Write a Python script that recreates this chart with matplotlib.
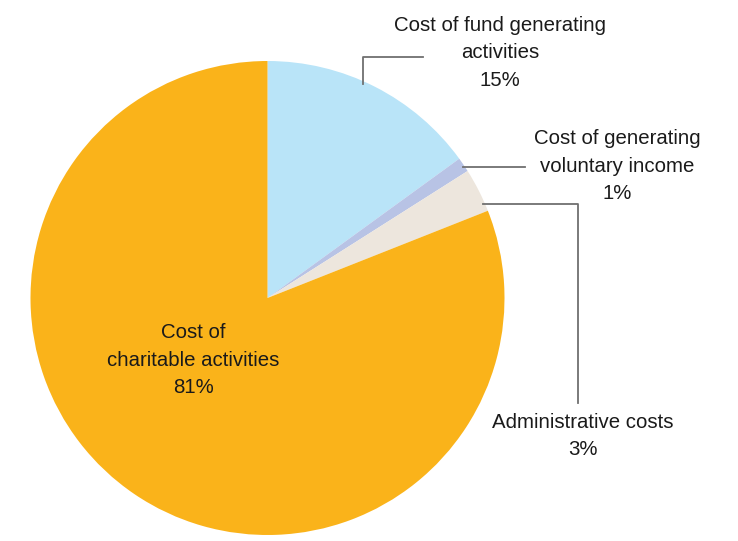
import numpy as np
import matplotlib
matplotlib.use("Agg")
import matplotlib.pyplot as plt

labels = ["Cost of fund generating\nactivities", "Cost of generating\nvoluntary income",
          "Administrative costs", "Cost of\ncharitable activities"]
values = [15, 1, 3, 81]
colors = ["#b9e4f8", "#b8c3e5", "#ede6dd", "#fab31a"]

W, H = 738, 541
fig = plt.figure(figsize=(W / 100, H / 100), dpi=100)
ax = fig.add_axes([0, 0, 1, 1])

def Y(y):  # pixel row (from top) -> data y
    return H - np.asarray(y, dtype=float)

cx, cy, R = 267.5, 298, 237
ax.pie(values, colors=colors, startangle=90, counterclock=False, center=(cx, Y(cy)),
       radius=R, wedgeprops=dict(linewidth=0), frame=True)
ax.set_xlim(0, W)
ax.set_ylim(0, H)
ax.set_aspect("equal")
ax.axis("off")

font = dict(family="Liberation Sans", fontsize=14.7, color="#1a1a1a", ha="center",
            va="center", linespacing=1.55)
lc = "#707070"
lw = 1.3

def circle_x(y):
    return cx + np.sqrt(R**2 - (y - cy)**2)

def circle_y(x):
    return cy - np.sqrt(R**2 - (x - cx)**2)

# Fund generating
ax.plot([363, 363, 423], Y([circle_y(363) + 3, 57, 57]), color=lc, lw=lw)
ax.text(500, Y(53), f"{labels[0]}\n{values[0]}%", **font)
# Voluntary income
ax.plot([circle_x(167) - 2, 525], Y([167, 167]), color=lc, lw=lw)
ax.text(617, Y(166), f"{labels[1]}\n{values[1]}%", **font)
# Administrative
ax.plot([circle_x(204) - 2, 578, 578], Y([204, 204, 403]), color=lc, lw=lw)
ax.text(583, Y(436), f"{labels[2]}\n{values[2]}%", **font)
# Charitable
ax.text(193, Y(360), f"{labels[3]}\n{values[3]}%", **font)

fig.savefig("out.png", dpi=100)
